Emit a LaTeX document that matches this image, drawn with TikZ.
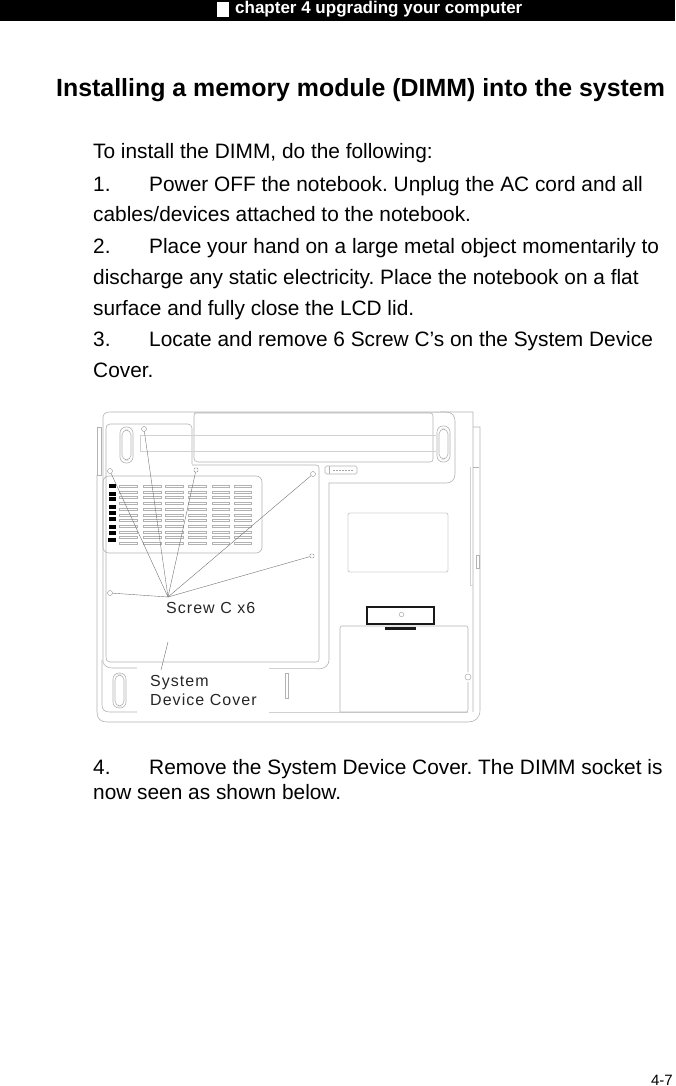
\documentclass[tikz,border=0pt]{standalone}
\usepackage{fontspec}
\setmainfont{Liberation Sans}
\newfontfamily\labelfont[LetterSpace=6.5]{Liberation Sans}
\usetikzlibrary{positioning}
\tikzset{
    bodytext/.style={anchor=base west, inner sep=0pt, font=\frenchspacing\fontsize{20.85}{24}\selectfont},
    calltext/.style={anchor=base west, inner sep=0pt, font=\fontsize{16}{19}\labelfont, text=black!85},
    part/.style={draw=black!30, line width=0.6pt},
    partlight/.style={draw=black!18, line width=0.9pt},
    ventslot/.style={draw=black!30, line width=0.45pt},
    pad/.style={draw=black, line width=2pt, fill=white, minimum width=5pt, minimum height=2.5pt, inner sep=0pt},
    screw/.style={circle, draw=black!45, line width=0.4pt, minimum size=5pt, inner sep=0pt},
    screwsq/.style={rectangle, rounded corners=1pt, draw=black!45, line width=0.4pt, minimum size=4pt, inner sep=0pt},
    leader/.style={draw=black!55, line width=0.4pt},
}
\begin{document}
\begin{tikzpicture}[x=1pt, y=-1pt]
    \useasboundingbox (0,0) rectangle (675,1086);

    % page header
    \fill[black] (0,0) rectangle (675,21);
    \fill[white] (217,2) rectangle (229,17);
    \node[anchor=base west, inner sep=0pt, text=white, font=\bfseries\fontsize{17}{22}\selectfont] (header) at (235,14) {chapter 4 upgrading your computer};
    \node[anchor=base west, inner sep=0pt, font=\bfseries\frenchspacing\fontsize{24.9}{30}\selectfont] (title) at (56,97) {Installing a memory module (DIMM) into the system};

    % steps
    \node[bodytext] (intro) at (93,159) {To install the DIMM, do the following:};
    \node[bodytext] (n1) at (93,191) {1.};
    \node[bodytext] (s1a) at (149,191) {Power OFF the notebook. Unplug the AC cord and all};
    \node[bodytext] (s1b) at (93,222) {cables/devices attached to the notebook.};
    \node[bodytext] (n2) at (93,253) {2.};
    \node[bodytext] (s2a) at (149,253) {Place your hand on a large metal object momentarily to};
    \node[bodytext] (s2b) at (93,284) {discharge any static electricity. Place the notebook on a flat};
    \node[bodytext] (s2c) at (93,315) {surface and fully close the LCD lid.};
    \node[bodytext] (n3) at (93,346) {3.};
    \node[bodytext] (s3a) at (149,346) {Locate and remove 6 Screw C’s on the System Device};
    \node[bodytext] (s3b) at (93,377) {Cover.};
    \node[bodytext] (n4) at (93,774) {4.};
    \node[bodytext] (s4a) at (149,774) {Remove the System Device Cover. The DIMM socket is};
    \node[bodytext] (s4b) at (93,799) {now seen as shown below.};
    \node[anchor=base east, inner sep=0pt, font=\fontsize{15}{18}\selectfont] (pageno) at (673,1085) {4-7};

    % notebook outline
    \draw[part] (97,427) -- (101,427) -- (101,475) -- (97,475) -- cycle;
    \draw[part] (97,475) -- (97,712) .. controls (97,719) and (101,722) .. (107,722) -- (468,722) .. controls (475,722) and (480,718) .. (480,710) -- (480,427) -- (473,427);
    \draw[part] (103,560) -- (103,418) .. controls (103,414) and (105,412) .. (110,412) -- (473,412) -- (473,712);
    \draw[part] (103,560) -- (103,662) .. controls (104,666) and (108,668) .. (112,668) -- (137,668);
    \draw[part] (102,660) -- (102,705) .. controls (102,710) and (105,712) .. (110,712) -- (137,712);
    \draw[partlight] (269,712) -- (468,712);
    \draw[partlight] (194,412) -- (440,412);
    \draw[partlight] (269,668) -- (318,668);

    % upper panel and battery
    \draw[part] (440,412) -- (446,412) .. controls (452,412) and (455,416) .. (455,421) -- (455,474) .. controls (455,480) and (451,483) .. (446,483) -- (329,483) -- (329,660) .. controls (329,665) and (325,669) .. (318,669);
    \draw[part] (192,464) -- (192,428) .. controls (192,426) and (190,424) .. (188,424) -- (110,424) .. controls (107,424) and (106,426) .. (106,429) -- (106,657) .. controls (106,660) and (107,662) .. (110,662) -- (316,662) .. controls (318,662) and (319,661) .. (319,659) -- (319,468) .. controls (319,466) and (318,465) .. (316,465) -- (192,465);
    \draw[part] (194,416) .. controls (194,413) and (195,413) .. (197,413) -- (430,413) .. controls (432,413) and (433,414) .. (433,416) -- (433,459) .. controls (433,461) and (432,462) .. (430,462) -- (198,462) .. controls (195,462) and (194,460) .. (194,458) -- cycle;
    \draw[partlight] (140,435) -- (436,435);
    \draw[partlight] (140,451) -- (436,451);
    \draw[partlight] (140,435) -- (140,451);

    % slots in the case
    \draw[part, rounded corners=6pt] (120,427) rectangle (133,463);
    \draw[part, rounded corners=5pt] (122,430) rectangle (131,460);
    \draw[part, rounded corners=6pt] (437,426) rectangle (450,462);
    \draw[part, rounded corners=5pt] (439,429) rectangle (448,459);
    \draw[part, rounded corners=6pt] (113,673) rectangle (126,708);
    \draw[part, rounded corners=5pt] (115,675) rectangle (124,706);
    \draw[part] (285,673) rectangle (288,698);

    % rating label
    \draw[part, rounded corners=1.5pt] (325,466) rectangle (357,474);
    \draw[part] (329,466) -- (329,474);
    \draw[draw=black!35, line width=1pt, dash pattern=on 2pt off 1pt] (333,470) -- (353,470);

    % vent panel
    \draw[part, rounded corners=6pt] (103,476) rectangle (262,553);
    \foreach \xa/\xb in {119/137, 143/161, 165/183, 188/206, 212/229, 234/251}
        \foreach \rowy in {486,492,497,503,509,515,520,526,532,537,543}
            \draw[ventslot] (\xa,\rowy-1) rectangle (\xb,\rowy+1);
    \foreach \rowy in {486,494,499,507,513,519,527,533}
        \node[pad] at (112,\rowy) {};
    \fill[black] (108,538) rectangle (116,542);

    % right hand panels
    \draw[partlight, rounded corners=2pt] (348,513) rectangle (448,572);
    \draw[part, rounded corners=2pt] (340,712) -- (340,626) -- (468,626) -- (468,672);
    \draw[part, rounded corners=2pt] (468,682) -- (468,712) -- (340,712);
    \draw[part] (468,677) circle (3pt);
    \draw[partlight] (470,467) -- (470,585) -- (473,585);
    \draw[part] (473,467) -- (479,467);
    \draw[part] (476,555) rectangle (479,568);
    \draw[black!90, line width=1.6pt] (367,607) rectangle (434,624);
    \draw[part] (401.5,614.5) circle (2.3pt);
    \fill[black!90] (385,627) rectangle (416,630);

    % screws and leaders
    \coordinate (hub) at (168,597);
    \node[screw] (screwa) at (144,429) {};
    \node[screw] (screwb) at (110,471) {};
    \node[screwsq] (screwc) at (196,470) {};
    \node[screw] (screwd) at (313,474) {};
    \node[screwsq] (screwe) at (312,556) {};
    \node[screw] (screwf) at (110,593) {};
    \foreach \s in {screwa, screwb, screwc, screwd, screwe, screwf}
        \draw[leader] (\s) -- (hub);

    % callouts
    \node[calltext] (screwlabel) at (166,613.5) {Screw C x6};
    \node[calltext] (coverlabel) at (150,686) {System};
    \node[calltext] (coverlabelb) at (150,705) {Device Cover};
    \coordinate (covertip) at (168,642);
    \draw[leader] (covertip) -- (161,670);
\end{tikzpicture}
\end{document}
